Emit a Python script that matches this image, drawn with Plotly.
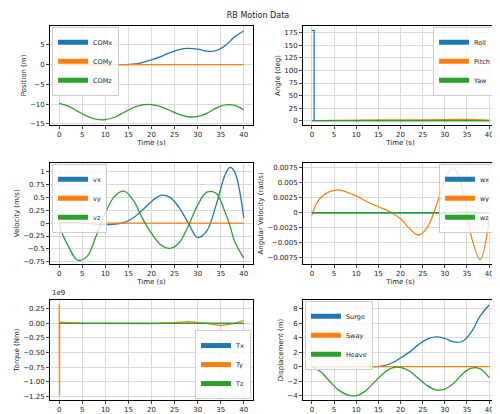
import plotly.graph_objects as go

t = [0,2,4,6,8,10,12,14,16,18,20,22,24,26,28,30,32,34,36,38,40]
com_x = [0,0,0,0,0,0,0,0,0.1,0.5,1.2,2.0,3.0,3.8,4.1,3.9,3.4,3.5,4.8,7.0,8.5]
com_y = [0]*21
com_z = [-9.8,-10.5,-11.8,-13,-13.8,-13.9,-13.3,-12.1,-10.9,-10.2,-10.1,-10.6,-11.6,-12.6,-13.2,-13.1,-12.3,-11.0,-10.2,-10.3,-11.4]

t_roll = [0,0.5,0.5,40]
roll = [180,180,0,0]
t_pitch = [0,10,20,30,35,40]
pitch = [0,1,1.5,2,2.5,1]
yaw = [0]*6

t_v = [0,0.3,2,4,6,8,10,12,14,16,18,20,22,24,26,28,30,32,34,36,37,38,40]
vx = [0,0.005,0.01,0.01,0,-0.02,-0.03,-0.02,0.01,0.1,0.25,0.42,0.54,0.5,0.3,0.0,-0.28,-0.15,0.35,0.95,1.08,1.0,0.1]
vy = [0]*23
vz = [0,-0.12,-0.45,-0.72,-0.65,-0.25,0.2,0.52,0.62,0.45,0.1,-0.2,-0.42,-0.49,-0.38,-0.05,0.35,0.6,0.58,0.2,-0.05,-0.35,-0.68]

t_w = [0,1,2,4,6,8,10,12,14,16,18,20,22,24,26,28,30,32,34,36,38,40]
wx = [0]*17 + [0.00005,0.0001,0.0001,0,0]
wy = [-0.0004,0.0015,0.0025,0.0035,0.0038,0.0034,0.0028,0.002,0.0013,0.0007,0.0,-0.001,-0.0026,-0.0037,-0.0025,0.001,0.0055,0.0075,0.004,-0.004,-0.0078,-0.0012]
wz = [0]*22

t_tq = [0,0.05,0.1,0.3,5,10,15,20,25,28,32,35,38,40]
tx = [0]*14
ty = [0.32e9,-1.23e9,0.02e9,0.02e9,0,0,0,-0.005e9,0.01e9,0.03e9,0.0,-0.04e9,0.0,0.05e9]
tz = [0]*14

surge = com_x
sway = [0]*21
heave = [0,-0.7,-2.0,-3.2,-3.9,-4.0,-3.4,-2.2,-1.0,-0.2,-0.1,-0.6,-1.6,-2.6,-3.2,-3.1,-2.3,-1.0,-0.2,-0.3,-1.5]

C = ['#1f77b4', '#ff7f0e', '#2ca02c']
fig = go.Figure()

def add(x, ys, names, ax, leg, shape='spline'):
    for y, n, c in zip(ys, names, C):
        fig.add_trace(go.Scatter(x=x, y=y, name=n, mode='lines', line=dict(color=c, width=1.3, shape=shape),
                                 xaxis='x' + ax, yaxis='y' + ax, legend=leg))

add(t, [com_x, com_y, com_z], ['COMx', 'COMy', 'COMz'], '', 'legend')
fig.add_trace(go.Scatter(x=t_roll, y=roll, name='Roll', mode='lines', line=dict(color=C[0], width=1.3), xaxis='x2', yaxis='y2', legend='legend2'))
fig.add_trace(go.Scatter(x=t_pitch, y=pitch, name='Pitch', mode='lines', line=dict(color=C[1], width=1.3, shape='spline'), xaxis='x2', yaxis='y2', legend='legend2'))
fig.add_trace(go.Scatter(x=t_pitch, y=yaw, name='Yaw', mode='lines', line=dict(color=C[2], width=1.3), xaxis='x2', yaxis='y2', legend='legend2'))
add(t_v, [vx, vy, vz], ['vx', 'vy', 'vz'], '3', 'legend3')
add(t_w, [wx, wy, wz], ['wx', 'wy', 'wz'], '4', 'legend4')
add(t_tq, [tx, ty, tz], ['Tx', 'Ty', 'Tz'], '5', 'legend5', shape='linear')
add(t, [surge, sway, heave], ['Surge', 'Sway', 'Heave'], '6', 'legend6')

xd = [[0.084, 0.49], [0.59, 0.98]]
yd = [[0.717, 0.957], [0.382, 0.626], [0.053, 0.295]]
ylabels = ['Position (m)', 'Angle (deg)', 'Velocity (m/s)', 'Angular Velocity (rad/s)', 'Torque (Nm)', 'Displacement (m)']
yranges = [[-15.3, 9.8], [-9, 189], [-0.79, 1.17], [-0.0085, 0.0083], [-1.31e9, 0.4e9], [-4.6, 9.2]]
ydt = [5, 25, 0.25, 0.0025, 0.25e9, 2]
ax_common = dict(showline=True, mirror=True, linecolor='black', linewidth=0.8, ticks='outside', ticklen=3,
                 showgrid=True, gridcolor='#d9d9d9', zeroline=False, tickfont=dict(size=7), automargin=False)
leg_pos = [(0.01, 0.99, 'left', 'top'), (0.99, 0.99, 'right', 'top'), (0.01, 0.99, 'left', 'top'),
           (0.99, 0.99, 'right', 'top'), (0.99, 0.01, 'right', 'bottom'), (0.01, 0.99, 'left', 'top')]
lay = {}
for i in range(6):
    r, c = divmod(i, 2)
    s = '' if i == 0 else str(i + 1)
    lay['xaxis' + s] = dict(ax_common, domain=xd[c], anchor='y' + s, range=[-2, 42], dtick=5,
                            title=dict(text='Time (s)', font=dict(size=7), standoff=1))
    yax = dict(ax_common, domain=yd[r], anchor='x' + s, range=yranges[i], dtick=ydt[i],
               title=dict(text=ylabels[i], font=dict(size=7), standoff=2))
    if i == 4:
        yax.update(tickvals=[-1.25e9, -1e9, -0.75e9, -0.5e9, -0.25e9, 0, 0.25e9],
                   ticktext=['−1.25', '−1.00', '−0.75', '−0.50', '−0.25', '0.00', '0.25'])
    lay['yaxis' + s] = yax
    lx, ly, xa, ya = leg_pos[i]
    dx = xd[c][0] + lx * (xd[c][1] - xd[c][0])
    dy = yd[r][0] + ly * (yd[r][1] - yd[r][0])
    lay['legend' + s] = dict(x=dx, y=dy, xanchor=xa, yanchor=ya, font=dict(size=6.5), bgcolor='rgba(255,255,255,0.8)',
                             bordercolor='#cccccc', borderwidth=1, tracegroupgap=0, itemwidth=30,
                             itemsizing='constant', entrywidth=0)

fig.update_layout(**lay)
fig.update_layout(width=500, height=414, margin=dict(l=0, r=0, t=0, b=0), plot_bgcolor='white', paper_bgcolor='white',
                  font=dict(family='DejaVu Sans', color='#222'),
                  title=dict(text='RB Motion Data', x=0.5, y=0.99, xanchor='center', yanchor='top', font=dict(size=8)),
                  annotations=[dict(text='1e9', x=0.084, y=0.297, xref='paper', yref='paper', xanchor='left', yanchor='bottom',
                                    showarrow=False, font=dict(size=7))])
fig.write_html('out.html')
